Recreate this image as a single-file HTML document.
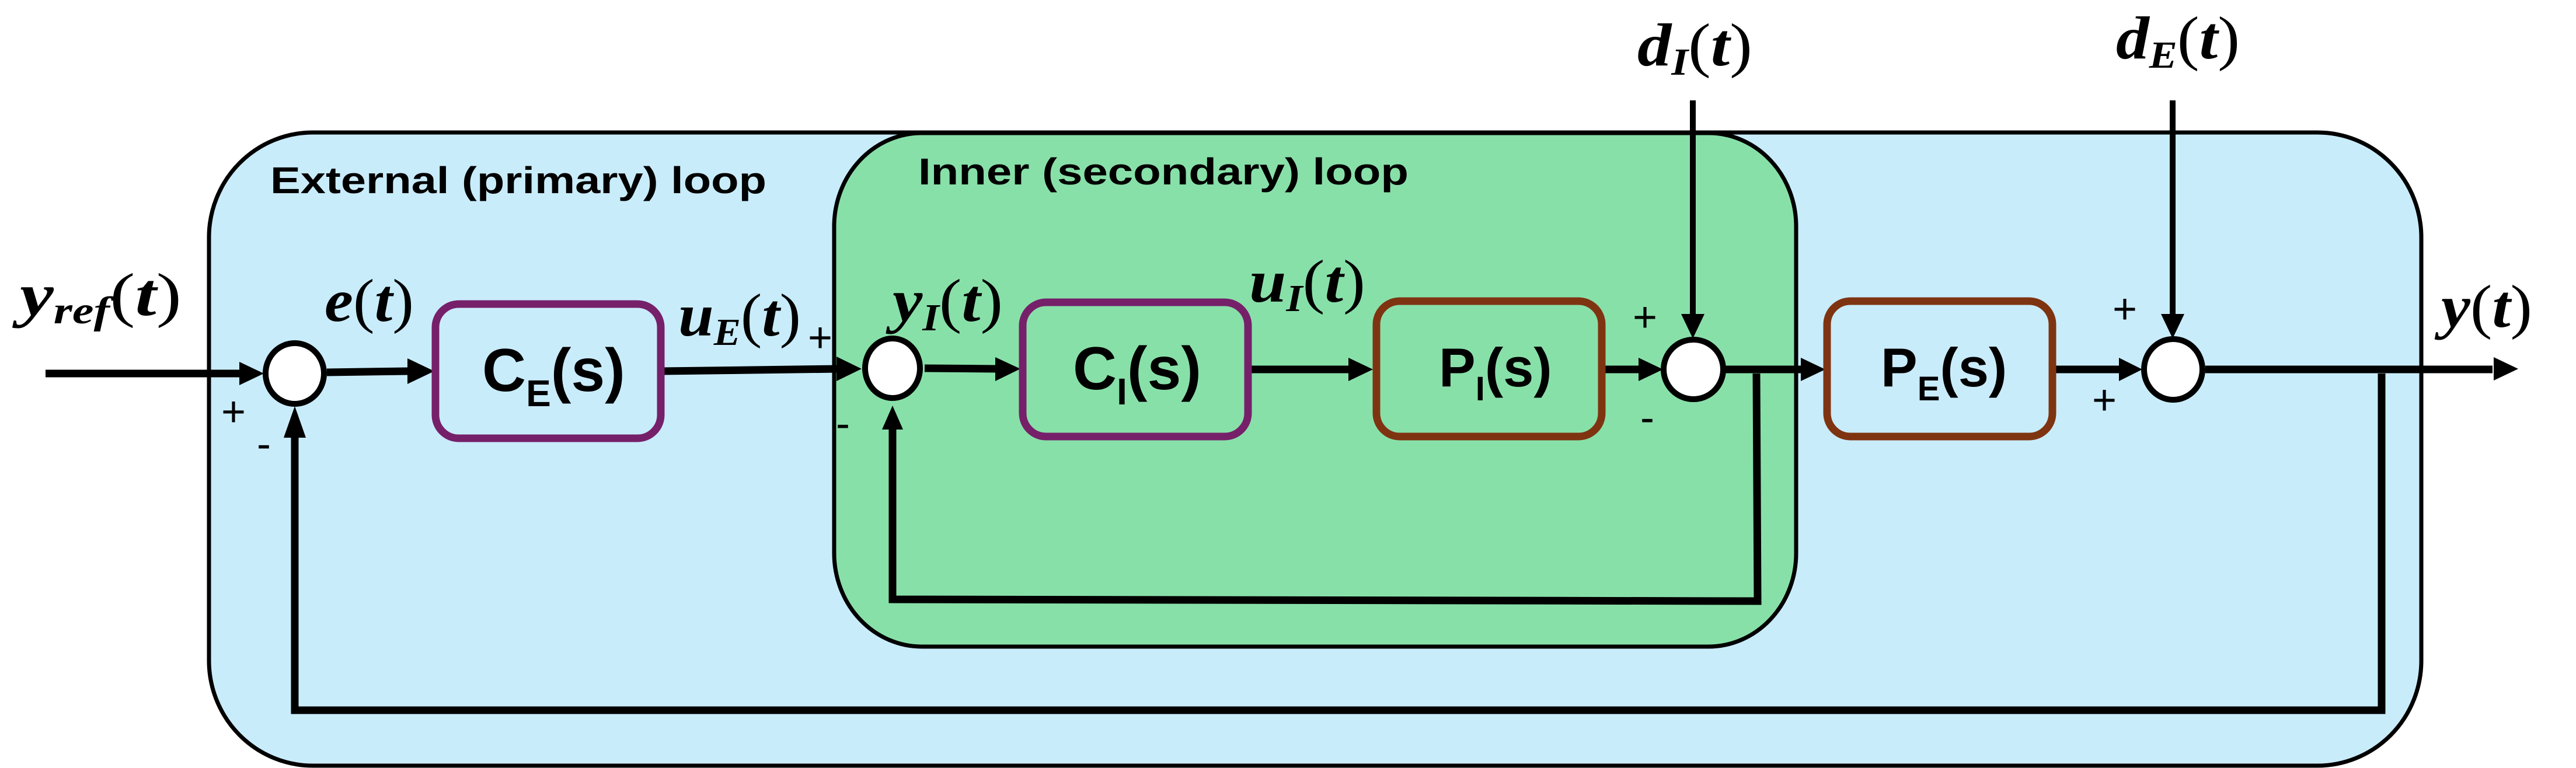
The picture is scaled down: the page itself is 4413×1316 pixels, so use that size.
<!DOCTYPE html>
<html><head><meta charset="utf-8"><style>html,body{margin:0;padding:0;background:#fff}svg{display:block}</style></head><body>
<svg width="4413" height="1316" viewBox="0 0 4413 1316" xmlns="http://www.w3.org/2000/svg">
<rect x="358" y="227" width="3790" height="1085" rx="178" ry="180" fill="#c9ecfb" stroke="#000" stroke-width="7"/>
<rect x="1429" y="228" width="1648" height="880" rx="150" ry="160" fill="#88e0a9" stroke="#000" stroke-width="7"/>
<text x="463" y="331" font-family="Liberation Sans, sans-serif" font-weight="bold" font-size="64" textLength="850" lengthAdjust="spacingAndGlyphs">External (primary) loop</text>
<text x="1573" y="316" font-family="Liberation Sans, sans-serif" font-weight="bold" font-size="64" textLength="840" lengthAdjust="spacingAndGlyphs">Inner (secondary) loop</text>

<g stroke="#000" stroke-width="13" fill="none">
<line x1="78" y1="640" x2="420" y2="640"/>
<line x1="560" y1="638" x2="700" y2="636"/>
<line x1="1134" y1="636" x2="1440" y2="632"/>
<line x1="1584" y1="631" x2="1705" y2="632"/>
<line x1="2140" y1="633" x2="2310" y2="633"/>
<line x1="2745" y1="633" x2="2810" y2="633"/>
<line x1="2956" y1="633" x2="3085" y2="633"/>
<line x1="3515" y1="633" x2="3635" y2="633"/>
<line x1="3778" y1="633" x2="4270" y2="633"/>
<polyline points="3009,640 3011,1030 1529,1027 1529,735"/>
<polyline points="4080,640 4080,1217 505,1217 505,745"/>
</g>
<g stroke="#000" stroke-width="10">
<line x1="2900" y1="172" x2="2900" y2="545"/>
<line x1="3722" y1="172" x2="3722" y2="545"/>
</g>
<g fill="#000">
<polygon points="410,620 452,640 410,660"/>
<polygon points="698,614 744,636 698,658"/>
<polygon points="1433,611 1476,632 1433,653"/>
<polygon points="1705,612 1748,632 1705,653"/>
<polygon points="2310,613 2352,633 2310,653"/>
<polygon points="2807,613 2849,633 2807,653"/>
<polygon points="3085,613 3127,633 3085,653"/>
<polygon points="3630,613 3670,633 3630,653"/>
<polygon points="4272,612 4314,632 4272,652"/>
<polygon points="2880,538 2900,580 2920,538"/>
<polygon points="3702,538 3722,580 3742,538"/>
<polygon points="1511,736 1529,695 1547,736"/>
<polygon points="486,750 505,696 524,750"/>
</g>
<g fill="#fff" stroke="#000" stroke-width="10">
<ellipse cx="505" cy="640" rx="50" ry="52"/>
<ellipse cx="1529" cy="631" rx="47" ry="51"/>
<ellipse cx="2901" cy="633" rx="51" ry="51"/>
<ellipse cx="3723" cy="633" rx="50" ry="52"/>
</g>
<g fill="none" stroke-width="13">
<rect x="746" y="521" width="386" height="230" rx="40" stroke="#76206a"/>
<rect x="1752" y="518" width="386" height="230" rx="40" stroke="#76206a"/>
<rect x="2358" y="516" width="386" height="232" rx="40" stroke="#7f3411"/>
<rect x="3130" y="516" width="386" height="232" rx="40" stroke="#7f3411"/>
</g>
<g font-family="Liberation Sans, sans-serif" font-weight="bold" fill="#000">
<text x="826" y="670" font-size="104">C<tspan font-size="64" dy="26">E</tspan><tspan dy="-26">(s)</tspan></text>
<text x="1838" y="667" font-size="104">C<tspan font-size="64" dy="26">I</tspan><tspan dy="-26">(s)</tspan></text>
<text x="2465" y="662" font-size="94">P<tspan font-size="58" dy="24">I</tspan><tspan dy="-24">(s)</tspan></text>
<text x="3222" y="662" font-size="94">P<tspan font-size="58" dy="24">E</tspan><tspan dy="-24">(s)</tspan></text>
</g>
<g font-family="Liberation Serif, serif" font-style="italic" font-weight="bold" fill="#000" font-size="104" lengthAdjust="spacingAndGlyphs">
<text x="34" y="540" textLength="277" lengthAdjust="spacingAndGlyphs">y<tspan font-size="66" dy="14">ref</tspan><tspan dy="-14" font-style="normal" font-weight="normal">(</tspan>t<tspan font-style="normal" font-weight="normal">)</tspan></text>
<text x="556" y="550" textLength="153" lengthAdjust="spacingAndGlyphs">e<tspan font-style="normal" font-weight="normal">(</tspan>t<tspan font-style="normal" font-weight="normal">)</tspan></text>
<text x="1162" y="575" textLength="210" lengthAdjust="spacingAndGlyphs">u<tspan font-size="66" dy="16">E</tspan><tspan dy="-16" font-style="normal" font-weight="normal">(</tspan>t<tspan font-style="normal" font-weight="normal">)</tspan></text>
<text x="1529" y="550" textLength="189" lengthAdjust="spacingAndGlyphs">y<tspan font-size="66" dy="16">I</tspan><tspan dy="-16" font-style="normal" font-weight="normal">(</tspan>t<tspan font-style="normal" font-weight="normal">)</tspan></text>
<text x="2140" y="517" textLength="199" lengthAdjust="spacingAndGlyphs">u<tspan font-size="66" dy="16">I</tspan><tspan dy="-16" font-style="normal" font-weight="normal">(</tspan>t<tspan font-style="normal" font-weight="normal">)</tspan></text>
<text x="2805" y="112" textLength="197" lengthAdjust="spacingAndGlyphs">d<tspan font-size="66" dy="16">I</tspan><tspan dy="-16" font-style="normal" font-weight="normal">(</tspan>t<tspan font-style="normal" font-weight="normal">)</tspan></text>
<text x="3625" y="100" textLength="212" lengthAdjust="spacingAndGlyphs">d<tspan font-size="66" dy="16">E</tspan><tspan dy="-16" font-style="normal" font-weight="normal">(</tspan>t<tspan font-style="normal" font-weight="normal">)</tspan></text>
<text x="4182" y="560" textLength="156" lengthAdjust="spacingAndGlyphs">y<tspan font-style="normal" font-weight="normal">(</tspan>t<tspan font-style="normal" font-weight="normal">)</tspan></text>
</g>
<g font-family="Liberation Sans, sans-serif" fill="#000" font-size="72" text-anchor="middle">
<text x="400" y="730">+</text>
<text x="452" y="785">-</text>
<text x="1405" y="603">+</text>
<text x="1444" y="750">-</text>
<text x="2818" y="568">+</text>
<text x="2822" y="740">-</text>
<text x="3640" y="554">+</text>
<text x="3605" y="710">+</text>
</g>
</svg>
</body></html>
